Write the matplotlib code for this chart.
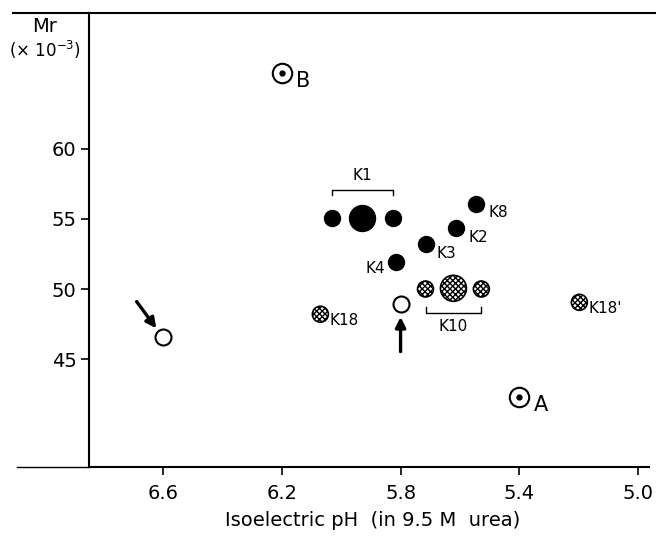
import numpy as np
import matplotlib
matplotlib.use("Agg")
import matplotlib.pyplot as plt
from matplotlib.lines import Line2D

plt.rcParams['font.family'] = ['DejaVu Sans']
plt.rcParams['hatch.linewidth'] = 1.0

# solid spots (black)
k1_ph = [6.03, 5.93, 5.825]
k1_mr = [55.1, 55.1, 55.1]
k1_big = [False, True, False]
solo_names = ['K8', 'K2', 'K3', 'K4']
solo_ph = [5.545, 5.612, 5.713, 5.817]
solo_mr = [56.1, 54.35, 53.2, 51.9]

# hatched spots
k10_ph = [5.716, 5.622, 5.528]
k10_mr = [50.0, 50.05, 50.0]
k10_big = [False, True, False]
hat_names = ['K18', "K18'"]
hat_ph = [6.07, 5.198]
hat_mr = [48.2, 49.05]

# open spots marked by arrows
open_ph = [6.6, 5.8]
open_mr = [46.55, 48.9]

# reference markers A and B
ref_names = ['B', 'A']
ref_ph = [6.2, 5.4]
ref_mr = [65.45, 42.3]

xticks = [6.6, 6.2, 5.8, 5.4, 5.0]
yticks = [45, 50, 55, 60]

fig = plt.figure(figsize=(6.56, 5.41), dpi=100)
W, H = 656, 541
ax = fig.add_axes([89 / W, (H - 467) / H, 567 / W, 454 / H])
ax.set_xlim(6.849, 4.94)
ax.set_ylim(37.29, 69.71)

ax.spines['right'].set_visible(False)
for s in ['left', 'top', 'bottom']:
    ax.spines[s].set_linewidth(1.5)
ax.spines['bottom'].set_bounds(6.849, 4.965)

# extend top and bottom lines to the left of the y axis
fig.add_artist(Line2D([13 / W, 89 / W], [(H - 13) / H] * 2, color='black', lw=1.5))
fig.add_artist(Line2D([17 / W, 89 / W], [(H - 467) / H] * 2, color='black', lw=1.0))

ax.set_xticks(xticks)
ax.set_xticklabels([f'{v:.1f}' for v in xticks])
ax.set_yticks(yticks)
ax.tick_params(axis='both', direction='out', length=6, width=1.2, labelsize=14, pad=3)
ax.tick_params(axis='x', pad=6)

ax.set_xlabel('Isoelectric pH  (in 9.5 M  urea)', fontsize=14, labelpad=6)
fig.text(45 / W, (H - 27) / H, 'Mr', fontsize=14, ha='center', va='center')
fig.text(45 / W, (H - 50) / H, '(× 10$^{-3}$)', fontsize=12, ha='center', va='center')

# marker diameters in points (16 px and 26 px at 100 dpi)
small, big = 11.5, 18.7

# K1 group
for x, y, b in zip(k1_ph, k1_mr, k1_big):
    ax.plot(x, y, 'o', color='black', ms=big if b else small)
yb = k1_mr[0] + 2.0
ax.plot([k1_ph[0], k1_ph[0], k1_ph[-1], k1_ph[-1]], [yb - 0.4, yb, yb, yb - 0.4], color='black', lw=1)
ax.text(k1_ph[1], yb + 0.45, 'K1', fontsize=11, ha='center', va='bottom')

# single solid spots
offsets = {'K8': (12, -9, 'left'), 'K2': (12, -9, 'left'), 'K3': (10, -9, 'left'), 'K4': (-10, -6, 'right')}
for n, x, y in zip(solo_names, solo_ph, solo_mr):
    ax.plot(x, y, 'o', color='black', ms=small)
    dx, dy, ha = offsets[n]
    ax.annotate(n, (x, y), xytext=(dx, dy), textcoords='offset pixels', fontsize=11, ha=ha, va='center')

# K10 group
for x, y, b in zip(k10_ph, k10_mr, k10_big):
    ax.scatter(x, y, s=(big if b else small) ** 2, facecolor='white', edgecolor='black',
               hatch='xxxxxx', lw=1.2, zorder=3)
yb = k10_mr[0] - 1.7
ax.plot([k10_ph[0], k10_ph[0], k10_ph[-1], k10_ph[-1]], [yb + 0.4, yb, yb, yb + 0.4], color='black', lw=1)
ax.text(k10_ph[1], yb - 0.45, 'K10', fontsize=11, ha='center', va='top')

for n, x, y in zip(hat_names, hat_ph, hat_mr):
    ax.scatter(x, y, s=small ** 2, facecolor='white', edgecolor='black', hatch='xxxxxx', lw=1.2, zorder=3)
    ax.annotate(n, (x, y), xytext=(9, -6), textcoords='offset pixels', fontsize=11, ha='left', va='center')

# open spots with arrows
ax.plot(open_ph, open_mr, 'o', ms=small, mfc='white', mec='black', mew=1.5, ls='none')
ax.annotate('', (open_ph[0], open_mr[0]), xytext=(-28, 38), textcoords='offset pixels',
            arrowprops=dict(arrowstyle='-|>', color='black', lw=2.4, mutation_scale=15, shrinkB=8))
ax.annotate('', (open_ph[1], open_mr[1]), xytext=(0, -50), textcoords='offset pixels',
            arrowprops=dict(arrowstyle='-|>', color='black', lw=2.4, mutation_scale=15, shrinkB=9))

# reference markers
ax.plot(ref_ph, ref_mr, 'o', ms=14, mfc='white', mec='black', mew=1.5, ls='none')
ax.plot(ref_ph, ref_mr, 'o', ms=3.5, color='black', ls='none')
for n, x, y in zip(ref_names, ref_ph, ref_mr):
    ax.annotate(n, (x, y), xytext=(14, -8), textcoords='offset pixels', fontsize=15, ha='left', va='center')

fig.savefig('out.png', dpi=100)
